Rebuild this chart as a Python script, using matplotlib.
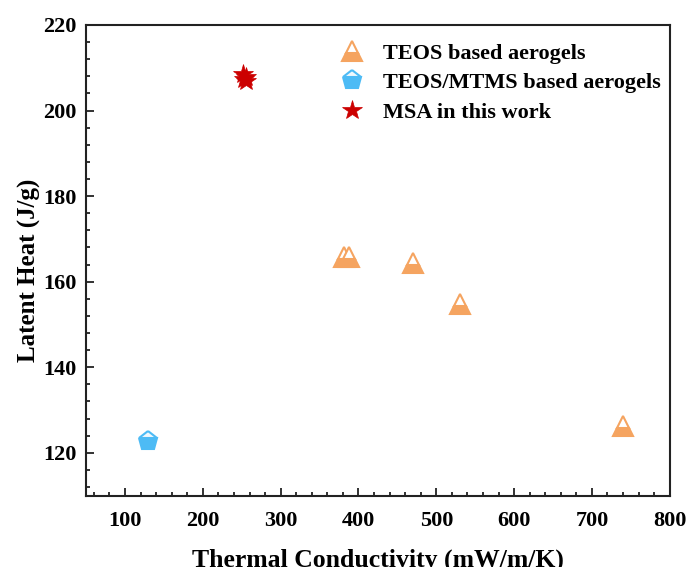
import numpy as np
import matplotlib
matplotlib.use("Agg")
import matplotlib.pyplot as plt
from matplotlib.ticker import MultipleLocator

plt.rcParams['font.family'] = ['Liberation Serif', 'DejaVu Serif']
plt.rcParams['font.weight'] = 'bold'

# data
teos_k = [381, 388, 470, 530, 740]
teos_h = [165.8, 165.8, 164.3, 154.7, 126.2]

mtms_k = [130]
mtms_h = [122.8]

msa_k = [252, 255, 253, 256]
msa_h = [208.6, 207.9, 207.3, 206.8]

orange = '#F5A460'
blue = '#4DBBF5'
red = '#CC0000'

fig = plt.figure(figsize=(6.89, 5.67), dpi=100)
ax = fig.add_axes([0.125, 0.126, 0.847, 0.830])

ax.plot(teos_k, teos_h, linestyle='none', marker='^', markersize=15,
        fillstyle='bottom', markerfacecolor=orange, markerfacecoloralt='white',
        markeredgecolor=orange, markeredgewidth=1.5, label='TEOS based aerogels')
ax.plot(mtms_k, mtms_h, linestyle='none', marker='p', markersize=14,
        fillstyle='bottom', markerfacecolor=blue, markerfacecoloralt='#F0F8FD',
        markeredgecolor=blue, markeredgewidth=1.5, label='TEOS/MTMS based aerogels')
ax.plot(msa_k, msa_h, linestyle='none', marker='*', markersize=15,
        color=red, markeredgewidth=0.5, label='MSA in this work')

ax.set_xlim(50, 800)
ax.set_ylim(110, 220)
ax.xaxis.set_major_locator(MultipleLocator(100))
ax.xaxis.set_minor_locator(MultipleLocator(20))
ax.yaxis.set_major_locator(MultipleLocator(20))
ax.yaxis.set_minor_locator(MultipleLocator(4))
ax.tick_params(which='both', direction='in', top=False, right=False, width=1.3,
               color='#222222')
ax.tick_params(which='major', length=6, labelsize=16)
ax.tick_params(which='minor', length=3)
ax.tick_params(axis='x', pad=11)
ax.tick_params(axis='y', pad=7)
for lab in ax.get_xticklabels() + ax.get_yticklabels():
    lab.set_fontweight('bold')
for s in ax.spines.values():
    s.set_linewidth(1.5)
    s.set_color('#222222')

ax.set_xlabel('Thermal Conductivity (mW/m/K)', fontsize=18.5, fontweight='bold', labelpad=13)
ax.set_ylabel('Latent Heat (J/g)', fontsize=18, fontweight='bold')
ax.yaxis.set_label_coords(-0.078, 0.478)

ax.legend(loc='upper right', frameon=False, fontsize=16, handletextpad=0.6,
          handlelength=1.6, labelspacing=0.4, borderaxespad=0.0,
          bbox_to_anchor=(1.0, 0.98))

fig.savefig('out.png', dpi=100)
